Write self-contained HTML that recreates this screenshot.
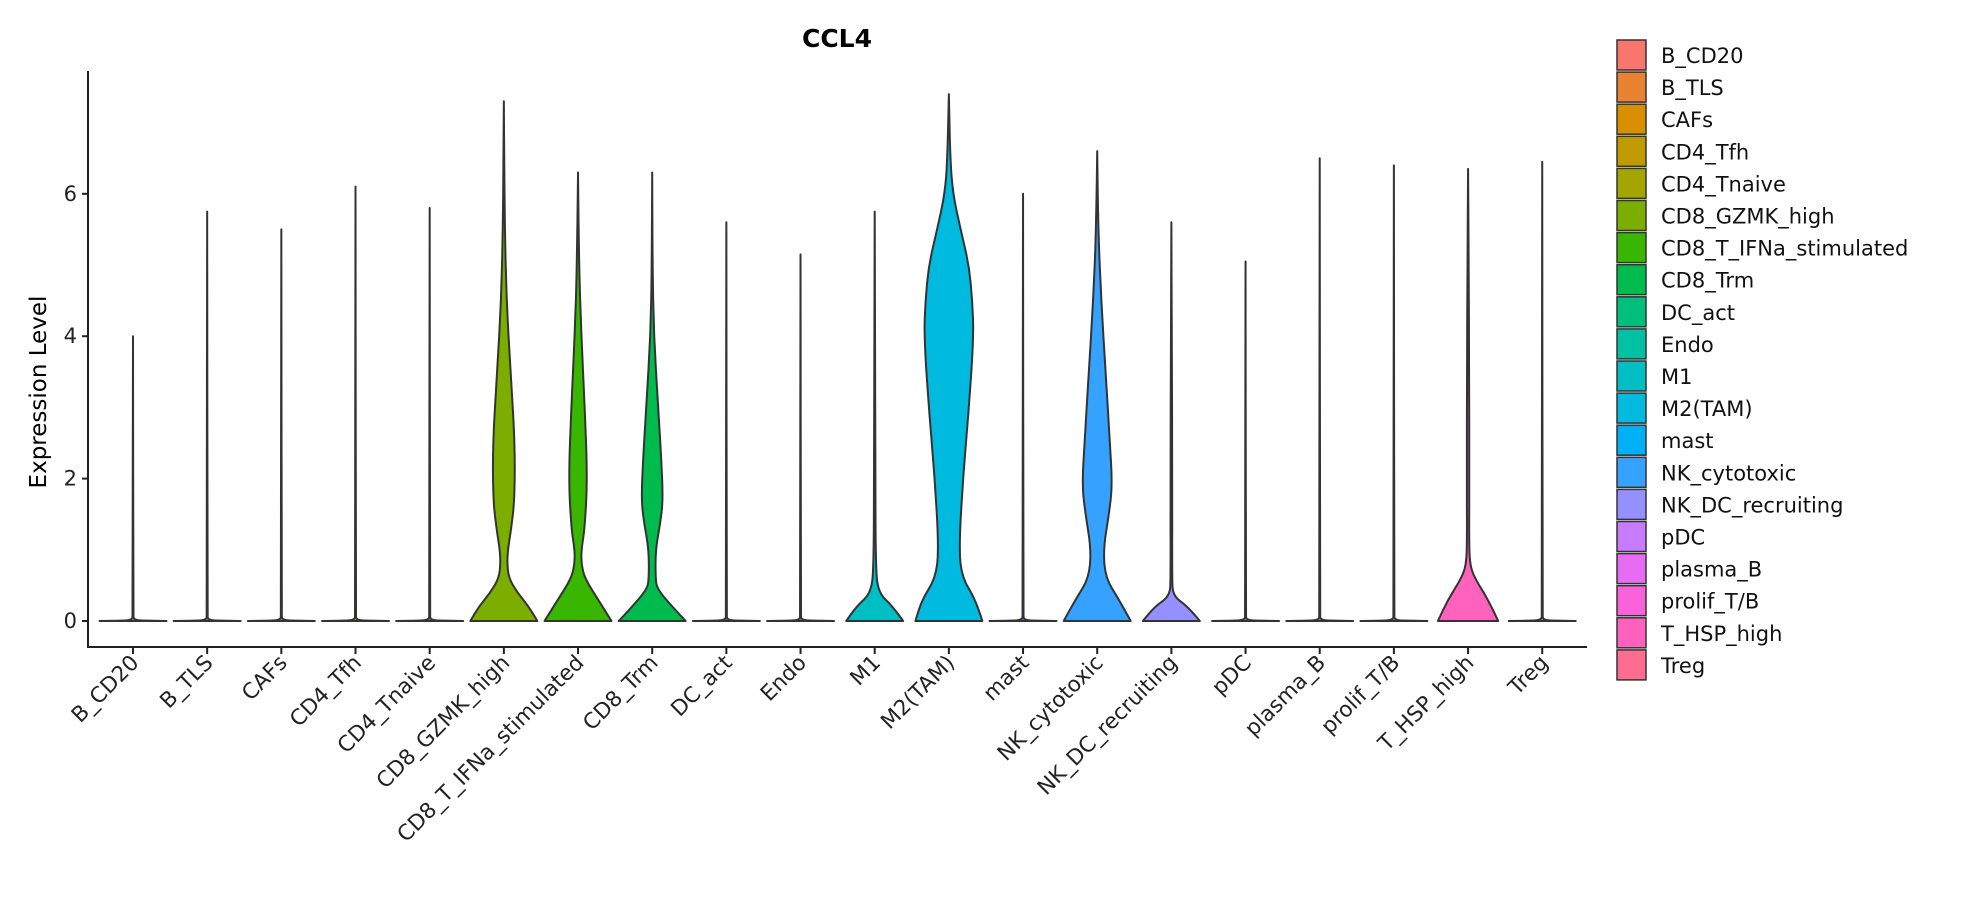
<!DOCTYPE html>
<html><head><meta charset="utf-8"><style>
html,body{margin:0;padding:0;background:#fff;}
svg{display:block;font-family:"DejaVu Sans","Liberation Sans",sans-serif;}
</style></head><body>
<svg id="chart" width="1965" height="900" viewBox="0 0 1965 900" xmlns="http://www.w3.org/2000/svg">
<rect width="1965" height="900" fill="#fff"/>
<text x="837" y="47" text-anchor="middle" font-size="25" font-weight="bold">CCL4</text>
<text transform="translate(46,392) rotate(-90)" text-anchor="middle" font-size="23">Expression Level</text>
<g id="marks"></g>
<g id="axes"></g>
<g id="legend"></g>
</svg>
<script>
const categories=["B_CD20","B_TLS","CAFs","CD4_Tfh","CD4_Tnaive","CD8_GZMK_high","CD8_T_IFNa_stimulated","CD8_Trm","DC_act","Endo","M1","M2(TAM)","mast","NK_cytotoxic","NK_DC_recruiting","pDC","plasma_B","prolif_T/B","T_HSP_high","Treg"];
const colors=["#F8766D","#EA8331","#D89000","#C09B00","#A3A500","#7CAE00","#39B600","#00BB4E","#00BF7D","#00C1A3","#00BFC4","#00BAE0","#00B0F6","#35A2FF","#9590FF","#C77CFF","#E76BF3","#FA62DB","#FF62BC","#FF6C91"];
const maxValues=[4.0,5.75,5.5,6.1,5.8,7.3,6.3,6.3,5.6,5.15,5.75,7.4,6.0,6.6,5.6,5.05,6.5,6.4,6.35,6.45];
const yTicks=[0,2,4,6];
// density profiles: [value, relative half-width]
const profGZMK=[[0,1],[0.2,0.75],[0.4,0.4],[0.6,0.15],[0.8,0.1],[1.0,0.12],[1.3,0.22],[1.7,0.32],[2.5,0.33],[3.5,0.2],[4.5,0.08],[5.5,0.03],[6.5,0.01]];
const profIFNa=[[0,1],[0.3,0.6],[0.6,0.2],[0.8,0.1],[1.0,0.1],[1.3,0.2],[2,0.28],[3,0.2],[4,0.1],[5,0.03]];
const profTrm=[[0,1],[0.2,0.6],[0.45,0.15],[0.6,0.1],[1,0.1],[1.4,0.25],[1.7,0.32],[2.2,0.28],[3,0.18],[4,0.05],[5,0.01]];
const profM1=[[0,0.85],[0.2,0.55],[0.4,0.1],[0.8,0.03],[2,0.02],[4,0.01]];
const profM2=[[0,1],[0.3,0.8],[0.6,0.4],[1,0.3],[2,0.42],[3,0.6],[4,0.74],[4.5,0.7],[5,0.6],[5.5,0.35],[6,0.12],[6.5,0.04]];
const profNK=[[0,1],[0.3,0.65],[0.6,0.25],[1,0.18],[1.5,0.35],[1.9,0.45],[2.5,0.38],[3.5,0.25],[4.5,0.12],[5.5,0.03]];
const profNKDC=[[0,0.85],[0.2,0.5],[0.35,0.05],[0.6,0.02],[2,0.03],[4,0.01]];
const profTHSP=[[0,0.9],[0.3,0.6],[0.6,0.2],[0.8,0.05],[1.2,0.03],[2,0.04],[3.5,0.03],[5,0.02]];
const profZero=[[0,1],[0.004,0.5],[0.01,0.02],[0.1,0.01]];
const profiles={"CD8_GZMK_high":profGZMK,"CD8_T_IFNa_stimulated":profIFNa,"CD8_Trm":profTrm,"M1":profM1,"M2(TAM)":profM2,"NK_cytotoxic":profNK,"NK_DC_recruiting":profNKDC,"T_HSP_high":profTHSP};

const NS="http://www.w3.org/2000/svg";
const X0=133, STEP=74.17, HALF=33.5;
const xScale=i=>X0+i*STEP;
const yScale=v=>621-v*71.2;
function mk(tag,attrs,parent){const e=document.createElementNS(NS,tag);for(const k in attrs)e.setAttribute(k,attrs[k]);parent.appendChild(e);return e;}
function smooth(pts){let d="M"+pts[0][0]+","+pts[0][1];
 for(let i=1;i<pts.length-1;i++){const mx=(pts[i][0]+pts[i+1][0])/2,my=(pts[i][1]+pts[i+1][1])/2;d+=" Q"+pts[i][0]+","+pts[i][1]+" "+mx+","+my;}
 const l=pts[pts.length-1];d+=" L"+l[0]+","+l[1];return d;}
const marks=document.getElementById("marks");
categories.forEach((c,i)=>{
 const prof=(profiles[c]||profZero).concat([[maxValues[i],0]]);
 const cx=xScale(i);
 const right=prof.map(p=>[cx+p[1]*HALF,yScale(p[0])]);
 const left=prof.slice().reverse().map(p=>[cx-p[1]*HALF,yScale(p[0])]);
 const d=smooth(right)+" "+smooth(left).replace("M","L")+" Z";
 const p=mk("path",{d:d,fill:colors[i],stroke:"#333",'stroke-width':2,'stroke-linejoin':'round'},marks);
 
 
});
const axes=document.getElementById("axes");
let yl=mk("line",{x1:88,y1:71,x2:88,y2:648,stroke:"#222","stroke-width":2},axes);


let xl=mk("line",{x1:87,y1:647,x2:1587,y2:647,stroke:"#222","stroke-width":2},axes);


yTicks.forEach(t=>{
 mk("line",{x1:82,x2:88,y1:yScale(t),y2:yScale(t),stroke:"#222","stroke-width":2},axes);
 const tx=mk("text",{x:77,y:yScale(t)+7,"text-anchor":"end","font-size":21,fill:"#222"},axes);tx.textContent=t;
 
 
});
categories.forEach((c,i)=>{
 const x=xScale(i);
 mk("line",{x1:x,x2:x,y1:647,y2:654,stroke:"#222","stroke-width":2},axes);
 const tx=mk("text",{transform:`translate(${x+7},${664}) rotate(-45)`,"text-anchor":"end","font-size":21.5,fill:"#222"},axes);tx.textContent=c;
 
 
});
const legend=document.getElementById("legend");
categories.forEach((c,i)=>{
 const y=55+i*32.1;
 const g=mk("g",{},legend);
 
 
 mk("rect",{x:1617,y:y-15,width:29,height:30,fill:colors[i],stroke:"#333","stroke-width":1.5},g);
 const t=mk("text",{x:1661,y:y+8,"font-size":21,fill:"#111"},g);t.textContent=c;
});
</script>
</body></html>
